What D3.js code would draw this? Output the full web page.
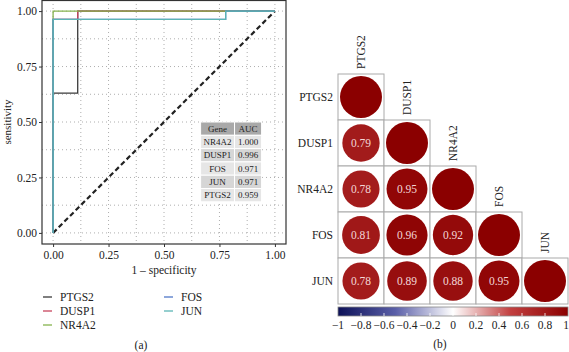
<!DOCTYPE html>
<html>
<head>
<meta charset="utf-8">
<script src="https://cdn.jsdelivr.net/npm/d3@7"></script>
<style>
  body { margin: 0; background: #fff; }
  svg, svg text { font-family: "Liberation Serif", "Times New Roman", "DejaVu Serif", serif !important; }
  text { fill: #222; }
</style>
</head>
<body>
<div id="graphic"></div>
<script>
// ROC curves (false positive rate, true positive rate)
const genes = ["PTGS2", "DUSP1", "NR4A2", "FOS", "JUN"];
const geneColors = ["#3a3a3a", "#c8455e", "#86b34e", "#4f78c8", "#5bb5b5"];
const fprPTGS2 = [0, 0, 0.111, 0.111, 1];
const tprPTGS2 = [0, 0.63, 0.63, 1, 1];
const fprDUSP1 = [0, 0, 0.111, 0.111, 1];
const tprDUSP1 = [0, 0.963, 0.963, 1, 1];
const fprNR4A2 = [0, 0, 1];
const tprNR4A2 = [0, 1, 1];
const fprFOS = [0, 0, 0.778, 0.778, 1];
const tprFOS = [0, 0.963, 0.963, 1, 1];
const fprJUN = [0, 0, 0.778, 0.778, 1];
const tprJUN = [0, 0.963, 0.963, 1, 1];

// AUC table
const aucGenes = ["NR4A2", "DUSP1", "FOS", "JUN", "PTGS2"];
const aucValues = ["1.000", "0.996", "0.971", "0.971", "0.959"];

// correlation matrix (lower triangle)
const corrRows = [
  [1],
  [0.79, 1],
  [0.78, 0.95, 1],
  [0.81, 0.96, 0.92, 1],
  [0.78, 0.89, 0.88, 0.95, 1]
];
const rocTicks = [0, 0.25, 0.5, 0.75, 1];
const barTicks = [-1, -0.8, -0.6, -0.4, -0.2, 0, 0.2, 0.4, 0.6, 0.8, 1];

const width = 569, height = 352;
const svg = d3.select("#graphic")
    .append("svg")
    .attr("width", width)
    .attr("height", height)
    .attr("font-family", "Liberation Serif");

// ---------- panel (a): ROC ----------
const pa = {left: 42, top: 0, right: 286, bottom: 244};
const x = d3.scaleLinear().domain([-0.05, 1.05]).range([pa.left, pa.right]);
const y = d3.scaleLinear().domain([-0.05, 1.05]).range([pa.bottom, pa.top]);

const gA = svg.append("g");

// grid (major + minor, dotted)
const gridVals = d3.range(0, 1.0001, 0.125);
gA.selectAll(".gx").data(gridVals).join("line")
    .attr("x1", d => x(d)).attr("x2", d => x(d))
    .attr("y1", pa.top).attr("y2", pa.bottom)
    .attr("stroke", "#999").attr("stroke-width", 0.8)
    .attr("stroke-dasharray", "1,3");
gA.selectAll(".gy").data(gridVals).join("line")
    .attr("y1", d => y(d)).attr("y2", d => y(d))
    .attr("x1", pa.left).attr("x2", pa.right)
    .attr("stroke", "#999").attr("stroke-width", 0.8)
    .attr("stroke-dasharray", "1,3");

// diagonal
gA.append("line")
    .attr("x1", x(0)).attr("y1", y(0)).attr("x2", x(1)).attr("y2", y(1))
    .attr("stroke", "#222").attr("stroke-width", 2.2)
    .attr("stroke-dasharray", "5,3");

// roc curves
const rocData = [
  [fprPTGS2, tprPTGS2], [fprDUSP1, tprDUSP1], [fprNR4A2, tprNR4A2],
  [fprFOS, tprFOS], [fprJUN, tprJUN]
].map((p, i) => ({gene: genes[i], pts: p[0].map((f, j) => [f, p[1][j]])}));

const line = d3.line().x(d => x(d[0])).y(d => y(d[1]));
gA.selectAll(".roc").data(rocData).join("path")
    .attr("d", d => line(d.pts))
    .attr("fill", "none")
    .attr("stroke", (d, i) => geneColors[i])
    .attr("stroke-width", 1.3);

// frame
gA.append("rect")
    .attr("x", pa.left).attr("y", pa.top + 0.5)
    .attr("width", pa.right - pa.left).attr("height", pa.bottom - pa.top - 0.5)
    .attr("fill", "none").attr("stroke", "#333").attr("stroke-width", 1.2);

// axes
const xAxis = gA.append("g")
    .attr("transform", `translate(0,${pa.bottom})`)
    .call(d3.axisBottom(x).tickValues(rocTicks).tickFormat(d3.format(".2f")).tickSize(3).tickPadding(4));
const yAxis = gA.append("g")
    .attr("transform", `translate(${pa.left},0)`)
    .call(d3.axisLeft(y).tickValues(rocTicks).tickFormat(d3.format(".2f")).tickSize(3).tickPadding(2));
[xAxis, yAxis].forEach(a => {
    a.attr("font-family", null);
    a.select(".domain").remove();
    a.selectAll("line").attr("stroke", "#333");
    a.selectAll("text").attr("font-size", 11.5).attr("fill", "#222");
});

gA.append("text")
    .attr("x", x(0.5)).attr("y", 274)
    .attr("text-anchor", "middle").attr("font-size", 11.5)
    .text("1 \u2013 specificity");
gA.append("text")
    .attr("transform", `translate(11,${y(0.5)}) rotate(-90)`)
    .attr("text-anchor", "middle").attr("font-size", 11)
    .text("sensitivity");

// AUC table
const tbl = {x0: x(0.665), x1: x(0.818), x2: x(0.94), y0: y(0.5), rowH: 13.3};
const tg = gA.append("g");
const tableRows = [["Gene", "AUC"]].concat(aucGenes.map((g, i) => [g, aucValues[i]]));
const rowFill = ["#a9a9a9", "#e6e6e6", "#d6d6d6", "#e6e6e6", "#d6d6d6", "#e6e6e6"];
tableRows.forEach((r, i) => {
    const yy = tbl.y0 + i * tbl.rowH;
    [[tbl.x0, tbl.x1], [tbl.x1, tbl.x2]].forEach((c, j) => {
        tg.append("rect")
            .attr("x", c[0]).attr("y", yy)
            .attr("width", c[1] - c[0]).attr("height", tbl.rowH)
            .attr("fill", rowFill[i]).attr("stroke", "#fff").attr("stroke-width", 1);
        tg.append("text")
            .attr("x", (c[0] + c[1]) / 2).attr("y", yy + tbl.rowH / 2 + 3)
            .attr("text-anchor", "middle").attr("font-size", 9)
            .text(r[j]);
    });
});

// legend
const legend = svg.append("g");
genes.forEach((g, i) => {
    const lx = i < 3 ? 43 : 164;
    const ly = 297 + (i % 3) * 14;
    legend.append("line")
        .attr("x1", lx).attr("x2", lx + 9).attr("y1", ly).attr("y2", ly)
        .attr("stroke", geneColors[i]).attr("stroke-width", 1.3);
    legend.append("text")
        .attr("x", lx + 17).attr("y", ly + 4)
        .attr("font-size", 11.5).text(g);
});

svg.append("text").attr("x", 141).attr("y", 349)
    .attr("text-anchor", "middle").attr("font-size", 11.5).text("(a)");

// ---------- panel (b): correlation ----------
const cb = {left: 338, top: 74, size: 230};
const band = d3.scaleBand().domain(genes).range([cb.left, cb.left + cb.size]);
const bandY = d3.scaleBand().domain(genes).range([cb.top, cb.top + cb.size]);
const color = d3.scaleLinear()
    .domain([-1, -0.5, 0, 0.5, 1])
    .range(["#0d1158", "#5a5fa8", "#ffffff", "#c24040", "#8b0000"]);
const rMax = band.bandwidth() / 2 - 2;

const cells = [];
corrRows.forEach((row, i) => row.forEach((v, j) => cells.push({row: genes[i], col: genes[j], v, diag: i === j})));

const gB = svg.append("g");
gB.selectAll(".cell").data(cells).join("rect")
    .attr("x", d => band(d.col)).attr("y", d => bandY(d.row))
    .attr("width", band.bandwidth()).attr("height", bandY.bandwidth())
    .attr("fill", "#fff").attr("stroke", "#aaa").attr("stroke-width", 1);
gB.selectAll(".dot").data(cells).join("circle")
    .attr("cx", d => band(d.col) + band.bandwidth() / 2)
    .attr("cy", d => bandY(d.row) + bandY.bandwidth() / 2)
    .attr("r", d => rMax * Math.sqrt(Math.abs(d.v)))
    .attr("fill", d => color(d.v));
gB.selectAll(".val").data(cells.filter(d => !d.diag)).join("text")
    .attr("x", d => band(d.col) + band.bandwidth() / 2)
    .attr("y", d => bandY(d.row) + bandY.bandwidth() / 2 + 4)
    .attr("text-anchor", "middle").attr("font-size", 11.5)
    .style("fill", "#f3d6d6")
    .text(d => d3.format(".2f")(d.v));

// row labels
gB.selectAll(".rl").data(genes).join("text")
    .attr("x", cb.left - 5)
    .attr("y", d => bandY(d) + bandY.bandwidth() / 2 + 4)
    .attr("text-anchor", "end").attr("font-size", 11.5)
    .text(d => d);
// column labels
gB.selectAll(".cl").data(genes).join("text")
    .attr("transform", d => `translate(${band(d) + band.bandwidth() / 2 + 4},${bandY(d) - 5}) rotate(-90)`)
    .attr("font-size", 11.5)
    .text(d => d);

// colorbar
const bar = {y: 307, h: 9};
const bx = d3.scaleLinear().domain([-1, 1]).range([cb.left, cb.left + cb.size]);
const grad = svg.append("defs").append("linearGradient").attr("id", "cbar");
d3.range(-1, 1.0001, 0.05).forEach(v => {
    grad.append("stop").attr("offset", ((v + 1) / 2 * 100) + "%").attr("stop-color", color(v));
});
gB.append("rect")
    .attr("x", bx(-1)).attr("y", bar.y).attr("width", bx(1) - bx(-1)).attr("height", bar.h)
    .attr("fill", "url(#cbar)").attr("stroke", "#888").attr("stroke-width", 0.8);
gB.selectAll(".bt").data(barTicks.slice(1, -1)).join("line")
    .attr("x1", d => bx(d)).attr("x2", d => bx(d))
    .attr("y1", bar.y + bar.h - 3).attr("y2", bar.y + bar.h)
    .attr("stroke", "#fff").attr("stroke-width", 0.8);
gB.selectAll(".btl").data(barTicks).join("text")
    .attr("x", d => d === 1 ? bx(d) - 2 : bx(d)).attr("y", 329)
    .attr("text-anchor", "middle").attr("font-size", 11.5)
    .text(d => String(+d.toFixed(1)).replace("-", "\u2212"));

svg.append("text").attr("x", 440).attr("y", 348)
    .attr("text-anchor", "middle").attr("font-size", 11.5).text("(b)");
</script>
</body>
</html>
